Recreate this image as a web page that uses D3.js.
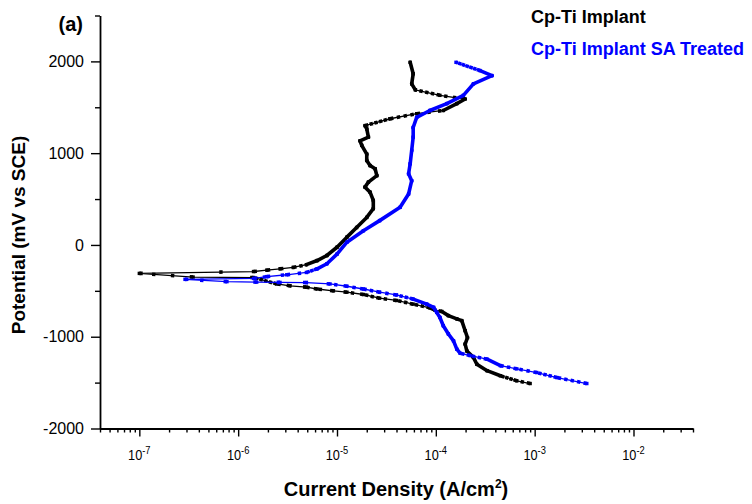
<!DOCTYPE html>
<html>
<head>
<meta charset="utf-8">
<script src="https://cdn.jsdelivr.net/npm/d3@7"></script>
<style>
body { margin: 0; background: #fff; }
text { font-family: "Liberation Sans", Arial, sans-serif; }
</style>
</head>
<body>
<div id="chart"></div>
<script>
// values: current density (A/cm2) and potential (mV vs SCE)
const seriesNames = ["Cp-Ti Implant", "Cp-Ti Implant SA Treated"];
const seriesColors = ["#000000", "#0000ff"];

const cpTiCurrent = [9.0e-4, 6.6e-4, 4.5e-4, 3.3e-4, 2.6e-4, 2.4e-4, 2.06e-4, 1.98e-4, 2.09e-4, 1.98e-4,
    1.83e-4, 1.63e-4, 1.34e-4, 1.15e-4, 9.8e-5, 8.7e-5, 5.9e-5, 4.0e-5, 2.7e-5, 1.85e-5,
    1.26e-5, 9.2e-6, 6.3e-6, 4.9e-6, 3.35e-6, 2.46e-6, 1.43e-6, 3.5e-7, 1.0e-7, 1.43e-6,
    1.95e-6, 2.65e-6, 3.6e-6, 4.9e-6, 6.3e-6, 7.9e-6, 1.0e-5, 1.26e-5, 1.58e-5, 2.0e-5,
    2.33e-5, 2.33e-5, 2.16e-5, 1.92e-5, 2.08e-5, 2.53e-5, 2.43e-5, 2.16e-5, 2.0e-5, 2.0e-5,
    1.78e-5, 1.71e-5, 2.08e-5, 2.0e-5, 1.92e-5, 3.44e-5, 6.4e-5, 1.19e-4, 1.63e-4, 1.98e-4,
    1.1e-4, 6.2e-5, 5.7e-5, 5.9e-5, 5.5e-5];
const cpTiPotential = [-1510, -1480, -1425, -1370, -1300, -1225, -1155, -1080, -1010, -935,
    -825, -805, -770, -725, -710, -685, -645, -605, -580, -540,
    -515, -500, -480, -460, -445, -425, -355, -350, -310, -290,
    -275, -260, -245, -215, -170, -115, -25, 85, 190, 300,
    395, 485, 575, 630, 685, 755, 830, 865, 920, 990,
    1085, 1135, 1175, 1265, 1300, 1375, 1430, 1465, 1540, 1590,
    1630, 1690, 1755, 1865, 1990];

const saCurrent = [3.37e-3, 1.68e-3, 1.05e-3, 6.6e-4, 4.5e-4, 3.3e-4, 2.22e-4, 1.76e-4, 1.63e-4, 1.51e-4,
    1.34e-4, 1.19e-4, 1.1e-4, 1.02e-4, 9.5e-5, 8.1e-5, 5.9e-5, 4.0e-5, 2.7e-5, 1.85e-5,
    1.26e-5, 8.5e-6, 4.9e-6, 2.65e-6, 1.54e-6, 7.7e-7, 2.9e-7, 1.43e-6, 1.95e-6, 3.1e-6,
    4.9e-6, 6.3e-6, 7.9e-6, 1.0e-5, 1.26e-5, 1.85e-5, 2.7e-5, 4.35e-5, 5.3e-5, 5.7e-5,
    5.3e-5, 5.5e-5, 5.7e-5, 5.9e-5, 5.9e-5, 6.4e-5, 8.7e-5, 1.29e-4, 1.9e-4, 2.4e-4,
    3.7e-4, 2.8e-4, 1.6e-4];
const saPotential = [-1510, -1445, -1390, -1350, -1315, -1245, -1205, -1180, -1135, -1045,
    -970, -880, -790, -735, -680, -645, -590, -545, -515, -480,
    -450, -425, -410, -408, -405, -400, -375, -365, -345, -325,
    -300, -260, -205, -100, 30, 155, 265, 410, 555, 700,
    775, 885, 1030, 1175, 1280, 1390, 1465, 1540, 1630, 1755,
    1845, 1900, 1990];

const yMajorTicks = [-2000, -1000, 0, 1000, 2000];
const yMinorTicks = [-1500, -500, 500, 1500, 2500];
const xMajorExponents = [-7, -6, -5, -4, -3, -2];

// potential step of the scan (mV) - used only to space the square markers like the instrument did
const scanStep = 14;

// 1: SVG + SCALES
const W = 752, H = 504;
const svg = d3.select("#chart").append("svg")
    .attr("width", W)
    .attr("height", H);

const x = d3.scaleLog()
    .domain([4e-8, 4e-2])
    .range([100, 693]);

const y = d3.scaleLinear()
    .domain([-2000, 2500])
    .range([428.5, 15.5]);

// 2: AXES
const xMinor = x.ticks().filter(v => !xMajorExponents.some(e => Math.abs(Math.log10(v) - e) < 1e-6));

svg.append("g")
    .attr("transform", `translate(0,${y(-2000)})`)
    .call(d3.axisBottom(x).tickValues(xMinor).tickSize(4).tickSizeOuter(0).tickFormat(""));

const gxMajor = svg.append("g")
    .attr("transform", `translate(0,${y(-2000)})`)
    .call(d3.axisBottom(x).tickValues(xMajorExponents.map(e => Math.pow(10, e))).tickSize(8).tickSizeOuter(0).tickFormat(""));
gxMajor.select(".domain").remove();

svg.append("g")
    .attr("transform", `translate(${x(4e-8)},0)`)
    .call(d3.axisLeft(y).tickValues(yMinorTicks).tickSize(5).tickSizeOuter(0).tickFormat(""));

const gyMajor = svg.append("g")
    .attr("transform", `translate(${x(4e-8)},0)`)
    .call(d3.axisLeft(y).tickValues(yMajorTicks).tickSize(9).tickSizeOuter(0).tickPadding(7).tickFormat(d => String(d)));
gyMajor.select(".domain").remove();

svg.selectAll(".domain").attr("stroke", "#000").attr("stroke-width", 1.8);
svg.selectAll(".tick line").attr("stroke", "#000").attr("stroke-width", 1.4);

gyMajor.selectAll(".tick text")
    .attr("font-family", "Liberation Sans, Arial, sans-serif")
    .attr("font-size", 16)
    .attr("fill", "#000");

// x tick labels: 10 with a superscript exponent, narrow face
xMajorExponents.forEach(e => {
    const t = svg.append("text")
        .attr("transform", `translate(${x(Math.pow(10, e))},460) scale(0.85,1)`)
        .attr("text-anchor", "middle")
        .attr("font-size", 15)
        .attr("fill", "#000");
    t.append("tspan").text("10");
    t.append("tspan").attr("dy", -6).attr("font-size", 11).text(String(e));
});

// 3: SERIES
function drawSeries(current, potential, color) {
    const pts = current.map((c, i) => [x(c), y(potential[i])]);

    svg.append("path")
        .datum(pts)
        .attr("fill", "none")
        .attr("stroke", color)
        .attr("stroke-width", 1.3)
        .attr("d", d3.line());

    // square markers: one per scan step, so steep runs merge into a solid band
    for (let i = 1; i < pts.length; i++) {
        const dx = pts[i][0] - pts[i - 1][0];
        const dy = pts[i][1] - pts[i - 1][1];
        const len = Math.hypot(dx, dy);
        const dE = Math.abs(potential[i] - potential[i - 1]);
        const spacing = len * scanStep / Math.max(dE, 1);
        const seg = svg.append("line")
            .attr("x1", pts[i - 1][0]).attr("y1", pts[i - 1][1])
            .attr("x2", pts[i][0]).attr("y2", pts[i][1])
            .attr("stroke", color)
            .attr("stroke-width", 3.6);
        if (spacing < 3.8) {
            seg.attr("stroke-linecap", "round");
        } else {
            seg.attr("stroke-dasharray", `3.4 ${spacing - 3.4}`);
        }
    }

    svg.append("g").selectAll("rect")
        .data(pts)
        .join("rect")
        .attr("x", d => d[0] - 1.7)
        .attr("y", d => d[1] - 1.7)
        .attr("width", 3.4)
        .attr("height", 3.4)
        .attr("fill", color);
}

drawSeries(cpTiCurrent, cpTiPotential, seriesColors[0]);
drawSeries(saCurrent, saPotential, seriesColors[1]);

// 4: LEGEND (text only)
seriesNames.forEach((name, i) => {
    svg.append("text")
        .attr("x", 531)
        .attr("y", 23 + i * 32)
        .attr("font-size", 18)
        .attr("font-weight", "bold")
        .attr("fill", seriesColors[i])
        .text(name);
});

// 5: LABELS
svg.append("text")
    .attr("x", 83)
    .attr("y", 31)
    .attr("text-anchor", "end")
    .attr("font-size", 20)
    .attr("font-weight", "bold")
    .text("(a)");

const xl = svg.append("text")
    .attr("x", 396)
    .attr("y", 496)
    .attr("text-anchor", "middle")
    .attr("font-size", 20)
    .attr("font-weight", "bold");
xl.append("tspan").text("Current Density (A/cm");
xl.append("tspan").attr("dy", -8).attr("font-size", 12).text("2");
xl.append("tspan").attr("dy", 8).text(")");

svg.append("text")
    .attr("transform", "translate(25,235) rotate(-90)")
    .attr("text-anchor", "middle")
    .attr("font-size", 19)
    .attr("font-weight", "bold")
    .text("Potential (mV vs SCE)");
</script>
</body>
</html>
